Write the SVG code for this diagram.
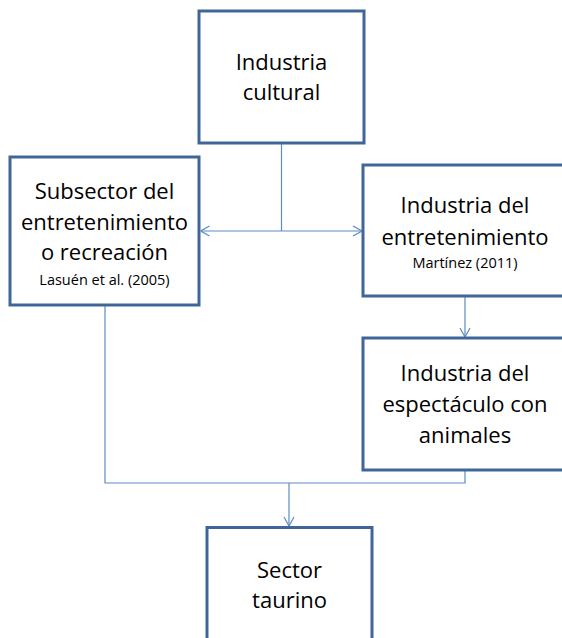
<svg xmlns="http://www.w3.org/2000/svg" width="562" height="638" viewBox="0 0 562 638">
<style>
.box{fill:#fff;stroke:#3F6697;stroke-width:3}
.t{font-family:"Open Sans","Liberation Sans",sans-serif;font-size:22px;fill:#000;text-anchor:middle}
.s{font-family:"Open Sans","Liberation Sans",sans-serif;font-size:14.5px;fill:#000;text-anchor:middle}
.c{fill:none;stroke:#5E8BC6;stroke-width:1.2}
</style>
<defs>
<marker id="arr" viewBox="0 0 10 12" refX="10" refY="6" markerWidth="10" markerHeight="12" markerUnits="userSpaceOnUse" orient="auto-start-reverse">
<path d="M1,1 L10,6 L1,11" fill="none" stroke="#5E8BC6" stroke-width="1.2"/>
</marker>
</defs>
<rect width="562" height="638" fill="#fff"/>
<g id="connectors">
<path class="c" d="M281.5,143 V231"/>
<path class="c" d="M200.5,231 H362" marker-start="url(#arr)" marker-end="url(#arr)"/>
<path class="c" d="M465,297 V337" marker-end="url(#arr)"/>
<path class="c" d="M105,305 V483 H465 V470"/>
<path class="c" d="M289,483 V526" marker-end="url(#arr)"/>
</g>
<g id="industria-cultural">
<rect class="box" x="199" y="11" width="165" height="132"/>
<text class="t" x="281.5" y="70">Industria</text>
<text class="t" x="281.5" y="100">cultural</text>
</g>
<g id="subsector">
<rect class="box" x="10" y="157" width="189" height="148"/>
<text class="t" x="104.5" y="199">Subsector del</text>
<text class="t" x="104.5" y="230">entretenimiento</text>
<text class="t" x="104.5" y="260">o recreación</text>
<text class="s" x="104.5" y="285">Lasuén et al. (2005)</text>
</g>
<g id="industria-entretenimiento">
<rect class="box" x="363" y="165" width="205" height="131"/>
<text class="t" x="465" y="213">Industria del</text>
<text class="t" x="465" y="245">entretenimiento</text>
<text class="s" x="465" y="268">Martínez (2011)</text>
</g>
<g id="industria-espectaculo">
<rect class="box" x="363" y="338" width="205" height="132"/>
<text class="t" x="465" y="381">Industria del</text>
<text class="t" x="465" y="412">espectáculo con</text>
<text class="t" x="465" y="443">animales</text>
</g>
<g id="sector-taurino">
<rect class="box" x="207" y="527.5" width="165" height="130"/>
<text class="t" x="289.5" y="578">Sector</text>
<text class="t" x="289.5" y="608">taurino</text>
</g>
</svg>
